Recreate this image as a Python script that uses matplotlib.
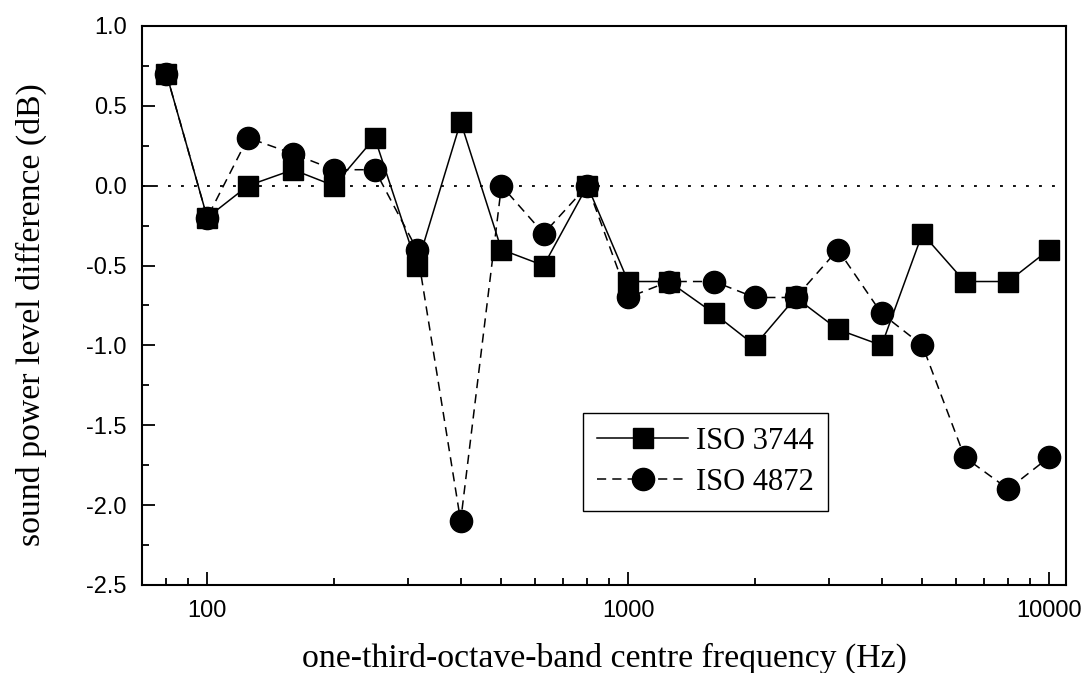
import numpy as np
import matplotlib
matplotlib.use('Agg')
import matplotlib.pyplot as plt
from matplotlib.ticker import FixedLocator, FixedFormatter, MultipleLocator, NullFormatter, FormatStrFormatter

# one-third-octave band centre frequencies (Hz)
freq = [80, 100, 125, 160, 200, 250, 315, 400, 500, 630, 800, 1000,
        1250, 1600, 2000, 2500, 3150, 4000, 5000, 6300, 8000, 10000]

# sound power level difference (dB)
iso_3744 = [0.7, -0.2, 0.0, 0.1, 0.0, 0.3, -0.5, 0.4, -0.4, -0.5, 0.0, -0.6,
            -0.6, -0.8, -1.0, -0.7, -0.9, -1.0, -0.3, -0.6, -0.6, -0.4]
iso_4872 = [0.7, -0.2, 0.3, 0.2, 0.1, 0.1, -0.4, -2.1, 0.0, -0.3, 0.0, -0.7,
            -0.6, -0.6, -0.7, -0.7, -0.4, -0.8, -1.0, -1.7, -1.9, -1.7]

labels = ['ISO 3744', 'ISO 4872']
xtick_vals = [100, 1000, 10000]
xtick_labels = ['100', '1000', '10000']

serif = ['Liberation Serif', 'DejaVu Serif']
sans = ['Liberation Sans', 'DejaVu Sans']

fig = plt.figure(figsize=(10.85, 6.73), dpi=100)
ax = fig.add_axes([0.1309, 0.1308, 0.8516, 0.8306])

# zero reference line
ax.axhline(0, color='black', lw=1.3, ls=(0, (1.6, 5.6)), zorder=1)

l2, = ax.plot(freq, iso_4872, color='black', lw=1.1, ls=(0, (6, 4)),
              marker='o', ms=16, zorder=2)
l1, = ax.plot(freq, iso_3744, color='black', lw=1.1, ls='-',
              marker='s', ms=15, zorder=3)

ax.set_xscale('log')
ax.set_xlim(70, 10970)
ax.set_ylim(-2.5, 1.0)

ax.xaxis.set_major_locator(FixedLocator(xtick_vals))
ax.xaxis.set_major_formatter(FixedFormatter(xtick_labels))
minors = [m * d for d in (10, 100, 1000) for m in range(2, 10)]
ax.xaxis.set_minor_locator(FixedLocator([v for v in minors if 70 <= v <= 11000]))
ax.xaxis.set_minor_formatter(NullFormatter())

ax.yaxis.set_major_locator(MultipleLocator(0.5))
ax.yaxis.set_minor_locator(MultipleLocator(0.25))
ax.yaxis.set_major_formatter(FormatStrFormatter('%.1f'))

ax.tick_params(which='both', direction='in', top=False, right=False, width=1.3)
ax.tick_params(which='major', length=9.5, pad=11, labelsize=17)
ax.tick_params(which='minor', length=5)
for lab in ax.get_xticklabels() + ax.get_yticklabels():
    lab.set_family(sans)

for s in ax.spines.values():
    s.set_linewidth(1.5)

ax.set_xlabel('one-third-octave-band centre frequency (Hz)', family=serif,
              fontsize=24.3)
ax.set_ylabel('sound power level difference (dB)', family=serif,
              fontsize=24.3)
ax.xaxis.set_label_coords(0.5, -0.104)
ax.yaxis.set_label_coords(-0.103, 0.483)

leg = ax.legend([l1, l2], labels, loc='upper left',
                bbox_to_anchor=(0.4773, 0.3077), numpoints=1,
                prop={'family': serif, 'size': 22}, frameon=True,
                fancybox=False, edgecolor='black', framealpha=1,
                handlelength=3.0, handletextpad=0.25, borderpad=0.45,
                labelspacing=0.4, borderaxespad=0)
leg.get_frame().set_linewidth(1.0)
leg.set_zorder(5)

fig.savefig('out.png', dpi=100)
